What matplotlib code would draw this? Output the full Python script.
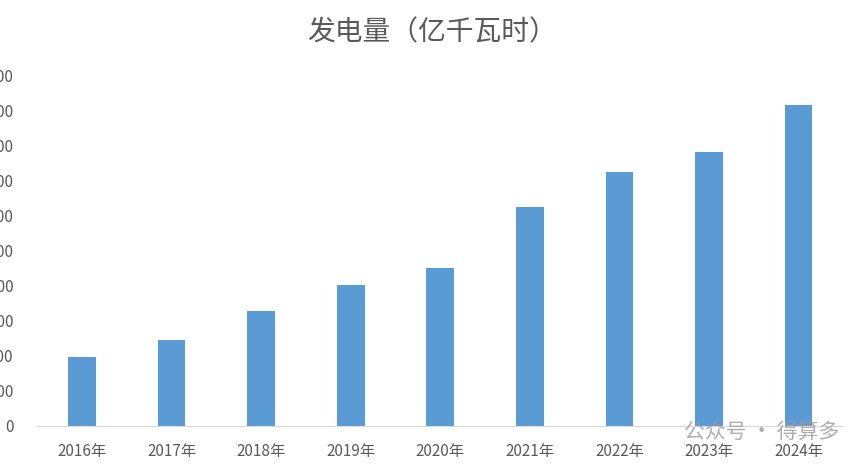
import matplotlib.pyplot as plt

plt.rcParams['font.family'] = ['Noto Sans CJK SC', 'DejaVu Sans']

years = ["2016年", "2017年", "2018年", "2019年", "2020年", "2021年", "2022年", "2023年", "2024年"]
values = [394, 491, 657, 806, 903, 1251, 1451, 1566, 1834]
yticks = list(range(0, 2001, 200))

fig = plt.figure(figsize=(8.65, 4.65), dpi=100)
ax = fig.add_axes([0.043, 0.084, 0.932, 0.753])
ax.bar(range(len(years)), values, width=0.31, color="#5B9BD5")
ax.set_xlim(-0.5, len(years) - 0.5)
ax.set_ylim(0, 2000)
ax.set_xticks(range(len(years)))
ax.set_xticklabels(years, fontsize=11, color="#595959")
ax.set_yticks(yticks)
ax.set_yticklabels([str(t) for t in yticks], fontsize=11, color="#595959")
ax.tick_params(axis="y", length=0, pad=17)
ax.tick_params(axis="x", length=0, pad=12)
for s in ["top", "right", "left"]:
    ax.spines[s].set_visible(False)
ax.spines["bottom"].set_color("#D9D9D9")

fig.text(0.5, 0.93, "发电量（亿千瓦时）", ha="center", va="center", fontsize=20, color="#595959")
fig.text(0.97, 0.072, "公众号 · 得算多", ha="right", va="center", fontsize=15, color="#9A9A9A", alpha=0.8)

fig.savefig("out.png")
